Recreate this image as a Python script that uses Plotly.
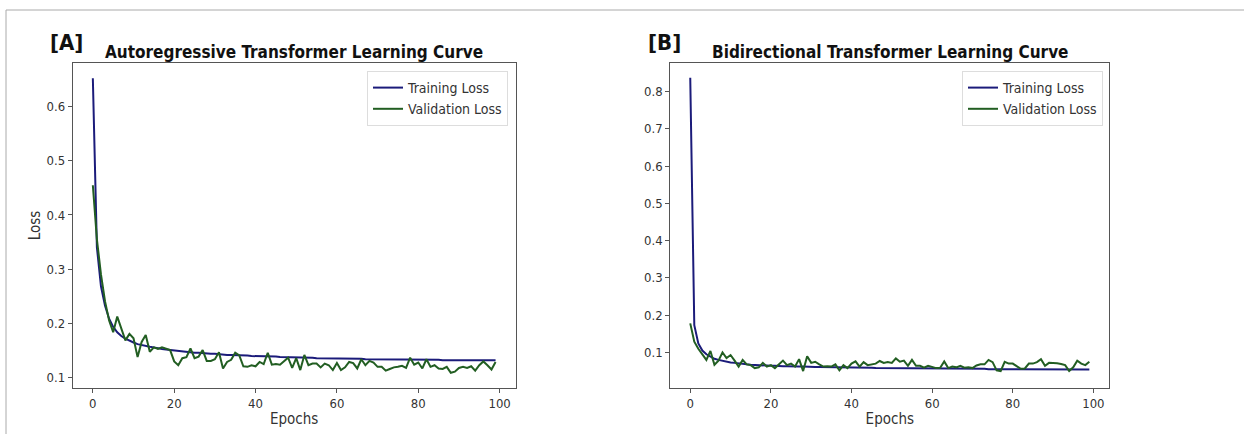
import plotly.graph_objects as go

epochs = list(range(100))

train_a = [0.653, 0.340, 0.268, 0.232, 0.208, 0.193, 0.183, 0.176, 0.171, 0.167,
           0.164, 0.161, 0.159, 0.157, 0.156, 0.155, 0.153, 0.152, 0.151, 0.150,
           0.149, 0.148, 0.147, 0.147, 0.146, 0.145, 0.145, 0.144, 0.144, 0.143,
           0.143, 0.142, 0.142, 0.141, 0.141, 0.141, 0.140, 0.140, 0.140, 0.139,
           0.139, 0.139, 0.138, 0.138, 0.138, 0.138, 0.137, 0.137, 0.137, 0.137,
           0.136, 0.136, 0.136, 0.136, 0.136, 0.135, 0.135, 0.135, 0.135, 0.135,
           0.135, 0.134, 0.134, 0.134, 0.134, 0.134, 0.134, 0.133, 0.133, 0.133,
           0.133, 0.133, 0.133, 0.133, 0.133, 0.132, 0.132, 0.132, 0.132, 0.132,
           0.132, 0.132, 0.132, 0.132, 0.132, 0.132, 0.131, 0.131, 0.131, 0.131,
           0.131, 0.131, 0.131, 0.131, 0.131, 0.131, 0.131, 0.131, 0.131, 0.131]

val_a = [0.455, 0.355, 0.290, 0.240, 0.205, 0.183, 0.212, 0.190, 0.168, 0.180,
         0.172, 0.137, 0.165, 0.178, 0.147, 0.155, 0.152, 0.155, 0.153, 0.150,
         0.129, 0.122, 0.135, 0.137, 0.153, 0.135, 0.138, 0.150, 0.130, 0.130,
         0.133, 0.146, 0.116, 0.128, 0.132, 0.145, 0.140, 0.120, 0.119, 0.122,
         0.120, 0.128, 0.124, 0.145, 0.123, 0.124, 0.123, 0.130, 0.136, 0.117,
         0.135, 0.113, 0.141, 0.122, 0.125, 0.125, 0.118, 0.125, 0.122, 0.113,
         0.126, 0.113, 0.118, 0.128, 0.126, 0.116, 0.133, 0.122, 0.130, 0.127,
         0.119, 0.119, 0.112, 0.115, 0.118, 0.119, 0.121, 0.117, 0.136, 0.123,
         0.127, 0.116, 0.133, 0.119, 0.122, 0.116, 0.115, 0.119, 0.108, 0.110,
         0.117, 0.119, 0.117, 0.120, 0.112, 0.122, 0.129, 0.122, 0.114, 0.128]

train_b = [0.837, 0.173, 0.124, 0.105, 0.095, 0.088, 0.083, 0.080, 0.077, 0.075,
           0.073, 0.072, 0.070, 0.069, 0.068, 0.067, 0.066, 0.066, 0.065, 0.065,
           0.064, 0.064, 0.063, 0.063, 0.063, 0.062, 0.062, 0.062, 0.062, 0.061,
           0.061, 0.061, 0.061, 0.061, 0.060, 0.060, 0.060, 0.060, 0.060, 0.059,
           0.059, 0.059, 0.059, 0.059, 0.059, 0.059, 0.058, 0.058, 0.058, 0.058,
           0.058, 0.058, 0.058, 0.058, 0.057, 0.057, 0.057, 0.057, 0.057, 0.057,
           0.057, 0.057, 0.057, 0.056, 0.056, 0.056, 0.056, 0.056, 0.056, 0.056,
           0.056, 0.056, 0.056, 0.056, 0.055, 0.055, 0.055, 0.055, 0.055, 0.055,
           0.055, 0.055, 0.055, 0.055, 0.055, 0.055, 0.055, 0.055, 0.055, 0.054,
           0.054, 0.054, 0.054, 0.054, 0.054, 0.054, 0.054, 0.054, 0.054, 0.054]

val_b = [0.178, 0.129, 0.110, 0.095, 0.080, 0.104, 0.067, 0.078, 0.100, 0.085,
         0.093, 0.078, 0.062, 0.080, 0.068, 0.066, 0.058, 0.060, 0.072, 0.062,
         0.066, 0.058, 0.067, 0.078, 0.066, 0.070, 0.062, 0.082, 0.050, 0.090,
         0.072, 0.075, 0.068, 0.062, 0.063, 0.062, 0.068, 0.052, 0.066, 0.058,
         0.070, 0.076, 0.062, 0.074, 0.066, 0.068, 0.070, 0.077, 0.072, 0.074,
         0.072, 0.084, 0.075, 0.078, 0.064, 0.080, 0.064, 0.064, 0.059, 0.064,
         0.062, 0.058, 0.059, 0.076, 0.058, 0.062, 0.060, 0.064, 0.059, 0.060,
         0.058, 0.065, 0.068, 0.068, 0.080, 0.074, 0.052, 0.050, 0.075, 0.070,
         0.070, 0.064, 0.056, 0.057, 0.070, 0.070, 0.074, 0.082, 0.064, 0.072,
         0.072, 0.071, 0.069, 0.066, 0.050, 0.060, 0.078, 0.070, 0.066, 0.075]

titles = ["Autoregressive Transformer Learning Curve", "Bidirectional Transformer Learning Curve"]
panel_tags = ["[A]", "[B]"]
series_names = ["Training Loss", "Validation Loss"]

W, H = 1244, 434
FONT = "DejaVu Sans Condensed, Liberation Sans, sans-serif"
TRAIN_C = "#1b1b7a"
VAL_C = "#225e22"

def px(x):
    return x / W

def py(y):
    return 1 - y / H

fig = go.Figure()

fig.add_trace(go.Scatter(x=epochs, y=train_a, mode="lines", name=series_names[0],
                         line=dict(color=TRAIN_C, width=2), xaxis="x", yaxis="y", legend="legend"))
fig.add_trace(go.Scatter(x=epochs, y=val_a, mode="lines", name=series_names[1],
                         line=dict(color=VAL_C, width=2), xaxis="x", yaxis="y", legend="legend"))
fig.add_trace(go.Scatter(x=epochs, y=train_b, mode="lines", name=series_names[0],
                         line=dict(color=TRAIN_C, width=2), xaxis="x2", yaxis="y2", legend="legend2"))
fig.add_trace(go.Scatter(x=epochs, y=val_b, mode="lines", name=series_names[1],
                         line=dict(color=VAL_C, width=2), xaxis="x2", yaxis="y2", legend="legend2"))

axis_common = dict(showgrid=False, zeroline=False, showline=True, mirror=True,
                   linecolor="#555555", linewidth=1, ticks="outside", ticklen=4,
                   tickcolor="#555555", tickfont=dict(family=FONT, size=13, color="#333333"))

yd = [py(387.7), py(63.3)]
title_font = dict(family=FONT, size=15, color="#333333")

fig.update_layout(
    width=W, height=H, margin=dict(l=0, r=0, t=0, b=0),
    paper_bgcolor="white", plot_bgcolor="white",
    font=dict(family=FONT, color="#222222"),
    xaxis=dict(domain=[px(72.7), px(515.7)], range=[-4.95, 103.95], dtick=20, tick0=0,
               title=dict(text="Epochs", font=title_font, standoff=3),
               anchor="y", **axis_common),
    yaxis=dict(domain=yd, range=[0.0804, 0.6806], dtick=0.1, tick0=0, tickformat=".1f",
               title=dict(text="Loss", font=title_font, standoff=2),
               anchor="x", **axis_common),
    xaxis2=dict(domain=[px(670.3), px(1109.3)], range=[-4.95, 103.95], dtick=20, tick0=0,
                title=dict(text="Epochs", font=title_font, standoff=3),
                anchor="y2", **axis_common),
    yaxis2=dict(domain=yd, range=[0.0054, 0.8756], dtick=0.1, tick0=0, tickformat=".1f",
                anchor="x2", **axis_common),
    legend=dict(x=px(508), y=py(71), xanchor="right", yanchor="top",
                bgcolor="rgba(255,255,255,0.9)", bordercolor="#dddddd", borderwidth=1,
                font=dict(family=FONT, size=14, color="#333333")),
    legend2=dict(x=px(1103), y=py(71), xanchor="right", yanchor="top",
                 bgcolor="rgba(255,255,255,0.9)", bordercolor="#dddddd", borderwidth=1,
                 font=dict(family=FONT, size=14, color="#333333")),
    showlegend=True,
)

# panel titles and tags
for cx, t in [((72.7 + 515.7) / 2, titles[0]), ((670.3 + 1109.3) / 2, titles[1])]:
    fig.add_annotation(x=px(cx), y=py(52), xref="paper", yref="paper", text="<b>" + t + "</b>",
                       showarrow=False, xanchor="center", yanchor="middle",
                       font=dict(family=FONT, size=17, color="#111111"))
for cx, t in [(66, panel_tags[0]), (664, panel_tags[1])]:
    fig.add_annotation(x=px(cx), y=py(43), xref="paper", yref="paper", text="<b>" + t + "</b>",
                       showarrow=False, xanchor="center", yanchor="middle",
                       font=dict(family=FONT, size=22, color="#111111"))

# outer frame lines (top and left)
fig.add_shape(type="line", xref="paper", yref="paper", x0=px(6), x1=1, y0=py(10), y1=py(10),
              line=dict(color="#aaaaaa", width=1))
fig.add_shape(type="line", xref="paper", yref="paper", x0=px(6), x1=px(6), y0=py(10), y1=0,
              line=dict(color="#aaaaaa", width=1))

fig.write_html("out.html")
